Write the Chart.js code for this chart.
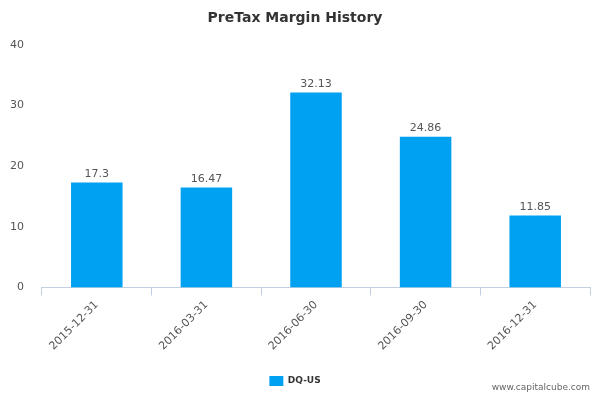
<!DOCTYPE html>
<html>
<head>
<meta charset="utf-8">
<script src="https://cdn.jsdelivr.net/npm/chart.js@4"></script>
<style>
  body { margin: 0; background: #fff; }
  #wrap { position: relative; width: 600px; height: 400px; }
  #site { position: absolute; right: 10px; bottom: 8px; font: 9px "DejaVu Sans", sans-serif; color: #666; }
</style>
</head>
<body>
<div id="wrap">
  <canvas id="chart" width="600" height="400"></canvas>
  <div id="site">www.capitalcube.com</div>
</div>
<script>
// Chart data
const categories = ["2015-12-31", "2016-03-31", "2016-06-30", "2016-09-30", "2016-12-31"];
const values = [17.3, 16.47, 32.13, 24.86, 11.85];
const seriesName = "DQ-US";

// draw the value above each bar
const valueLabels = {
  id: "valueLabels",
  afterDatasetsDraw(chart) {
    const ctx = chart.ctx;
    const meta = chart.getDatasetMeta(0);
    ctx.save();
    ctx.font = "11px 'DejaVu Sans', sans-serif";
    ctx.fillStyle = "#555";
    ctx.textAlign = "center";
    ctx.textBaseline = "bottom";
    meta.data.forEach((bar, i) => {
      ctx.fillText(String(values[i]), bar.x, bar.y - 3);
    });
    ctx.restore();
  },
};

new Chart(document.getElementById("chart").getContext("2d"), {
  type: "bar",
  data: {
    labels: categories,
    datasets: [{
      label: seriesName,
      data: values,
      backgroundColor: "#00a1f1",
      categoryPercentage: 1,
      barPercentage: 0.47,
    }],
  },
  options: {
    responsive: false,
    animation: false,
    layout: { padding: { left: 0, right: 10, top: 2, bottom: 4 } },
    plugins: {
      title: {
        display: true,
        text: "PreTax Margin History",
        font: { family: "'DejaVu Sans', sans-serif", size: 14, weight: "bold" },
        color: "#333",
        padding: { top: 8, bottom: 18 },
      },
      legend: {
        position: "bottom",
        labels: {
          boxWidth: 14, boxHeight: 10,
          font: { family: "'DejaVu Sans', sans-serif", size: 9, weight: "bold" },
          color: "#333",
          padding: 20,
        },
      },
      tooltip: { enabled: false },
    },
    scales: {
      y: {
        min: 0, max: 40,
        ticks: { stepSize: 10, color: "#555", font: { family: "'DejaVu Sans', sans-serif", size: 11 }, padding: 10 },
        grid: { display: false },
        border: { display: false },
      },
      x: {
        ticks: { color: "#555", font: { family: "'DejaVu Sans', sans-serif", size: 11 }, maxRotation: 45, minRotation: 45 },
        grid: { display: true, drawOnChartArea: false, tickLength: 8, color: "#c0d0e0", offset: true },
        border: { color: "#c0d0e0" },
      },
    },
  },
  plugins: [valueLabels],
});
</script>
</body>
</html>
